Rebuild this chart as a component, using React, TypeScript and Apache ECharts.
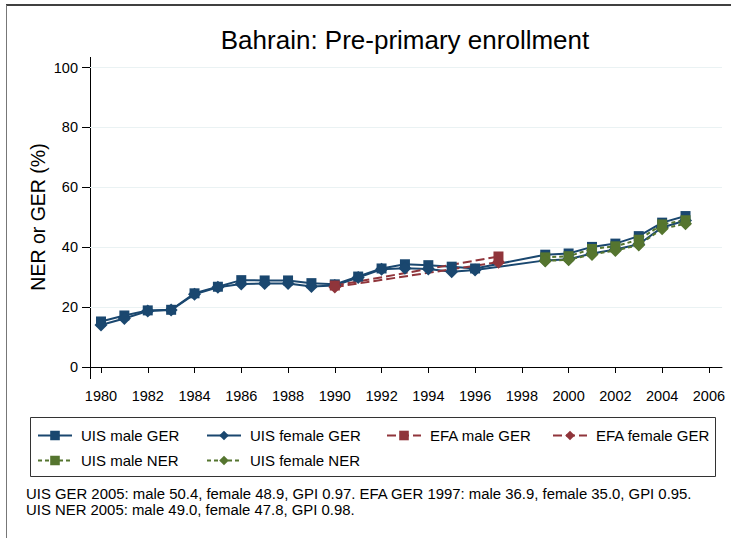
import React, { useEffect, useRef } from "react";
import * as echarts from "echarts";

// ---- data ----
const gerYears = [1980, 1981, 1982, 1983, 1984, 1985, 1986, 1987, 1988, 1989, 1990, 1991, 1992, 1993, 1994, 1995, 1996, 1999, 2000, 2001, 2002, 2003, 2004, 2005];
const uisMaleGER = [15.2, 17.2, 18.9, 19.1, 24.6, 26.8, 29.0, 28.9, 28.9, 28.0, 27.6, 30.2, 32.9, 34.3, 34.0, 33.5, 32.9, 37.5, 37.9, 40.1, 41.2, 43.7, 48.2, 50.4];
const uisFemaleGER = [14.0, 16.2, 18.7, 19.0, 24.3, 26.6, 27.7, 27.9, 27.9, 26.9, 27.2, 29.9, 32.6, 33.0, 32.7, 31.8, 32.4, 35.6, 36.0, 37.9, 39.2, 41.0, 46.6, 48.9];
const efaYears = [1990, 1997];
const efaMaleGER = [27.2, 36.9];
const efaFemaleGER = [26.7, 35.0];
const nerYears = [1999, 2000, 2001, 2002, 2003, 2004, 2005];
const uisMaleNER = [36.6, 37.0, 39.4, 40.3, 42.5, 47.6, 49.0];
const uisFemaleNER = [35.4, 35.8, 37.6, 38.9, 40.7, 46.2, 47.8];
const xTickYears = [1980, 1982, 1984, 1986, 1988, 1990, 1992, 1994, 1996, 1998, 2000, 2002, 2004, 2006];
const seriesNames = ["UIS male GER", "UIS female GER", "EFA male GER", "EFA female GER", "UIS male NER", "UIS female NER"];
const titleText = "Bahrain: Pre-primary enrollment";
const yAxisTitle = "NER or GER (%)";
const noteLines = [
  "UIS GER 2005: male 50.4, female 48.9, GPI 0.97. EFA GER 1997: male 36.9, female 35.0, GPI 0.95.",
  "UIS NER 2005: male 49.0, female 47.8, GPI 0.98.",
];

const FONT = "'Liberation Sans', Arial, Helvetica, sans-serif";
const NAVY = "#1a476f";
const MAROON = "#90353b";
const GREEN = "#55752f";

export default function App() {
  const ref = useRef<HTMLDivElement>(null);
  useEffect(() => {
    if (!ref.current) return;
    const chart = echarts.init(ref.current, null, { renderer: "svg" });
    const pairs = (xs: number[], ys: number[]) => xs.map((x, i) => [x, ys[i]]);
    const mk = (name: string, xs: number[], ys: number[], color: string, symbol: string, size: number, lineType: any) => ({
      name,
      type: "line",
      data: pairs(xs, ys),
      symbol,
      symbolSize: size,
      showSymbol: true,
      itemStyle: { color, opacity: 1 },
      lineStyle: { color, width: 2, type: lineType },
      emphasis: { disabled: true },
      silent: true,
    });
    const legendPos = [
      { x: 37, y: 428 },
      { x: 206, y: 428 },
      { x: 386, y: 428 },
      { x: 552, y: 428 },
      { x: 37, y: 453 },
      { x: 206, y: 453 },
    ];
    const option: any = {
      animation: false,
      backgroundColor: "#ffffff",
      grid: { left: 90, right: 9, top: 67.5, bottom: 171 },
      xAxis: {
        type: "value",
        min: 1979.53,
        max: 2006.56,
        offset: 12,
        axisLine: { show: true, lineStyle: { color: "#000", width: 1 } },
        axisTick: { show: true, customValues: xTickYears, length: 6, lineStyle: { color: "#000" } },
        axisLabel: {
          customValues: xTickYears,
          margin: 9,
          fontFamily: FONT,
          fontSize: 14.5,
          color: "#000",
          formatter: (v: number) => String(Math.round(v)),
        },
        splitLine: { show: false },
      },
      yAxis: {
        type: "value",
        min: 0,
        max: 100,
        interval: 20,
        axisLine: { show: false },
        axisTick: { show: true, length: 8, lineStyle: { color: "#000" } },
        axisLabel: { margin: 12, fontFamily: FONT, fontSize: 14.5, color: "#000" },
        splitLine: { show: true, lineStyle: { color: "#eaf2f3", width: 1 } },
      },
      legend: legendPos.map((p, i) => ({
        data: [seriesNames[i]],
        left: p.x,
        top: p.y,
        padding: 0,
        itemWidth: 34,
        itemHeight: 12,
        selectedMode: false,
        textStyle: { fontFamily: FONT, fontSize: 15, color: "#000", padding: [0, 0, 0, 4] },
      })),
      graphic: [
        { type: "line", shape: { x1: 6, y1: 5, x2: 731, y2: 5 }, style: { stroke: "#000", lineWidth: 1.5 } },
        { type: "line", shape: { x1: 6.5, y1: 5, x2: 6.5, y2: 538 }, style: { stroke: "#777", lineWidth: 1 } },
        { type: "line", shape: { x1: 90.5, y1: 57, x2: 90.5, y2: 379 }, style: { stroke: "#000", lineWidth: 1 } },
        { type: "rect", shape: { x: 30.5, y: 417.5, width: 685, height: 59 }, style: { fill: "none", stroke: "#333", lineWidth: 1 } },
        {
          type: "text", x: 405, y: 40,
          style: { text: titleText, textAlign: "center", textVerticalAlign: "middle", fontFamily: FONT, fontSize: 26, fill: "#000" },
        },
        {
          type: "text", x: 38, y: 217, rotation: Math.PI / 2,
          style: { text: yAxisTitle, textAlign: "center", textVerticalAlign: "middle", fontFamily: FONT, fontSize: 19.5, fill: "#000" },
        },
        {
          type: "text", x: 26, y: 494,
          style: { text: noteLines[0], textAlign: "left", textVerticalAlign: "middle", fontFamily: FONT, fontSize: 14.9, fill: "#000" },
        },
        {
          type: "text", x: 26, y: 510,
          style: { text: noteLines[1], textAlign: "left", textVerticalAlign: "middle", fontFamily: FONT, fontSize: 14.9, fill: "#000" },
        },
      ],
      series: [
        mk(seriesNames[0], gerYears, uisMaleGER, NAVY, "rect", 10, "solid"),
        mk(seriesNames[1], gerYears, uisFemaleGER, NAVY, "diamond", 13, "solid"),
        mk(seriesNames[2], efaYears, efaMaleGER, MAROON, "rect", 10, [9, 4]),
        mk(seriesNames[3], efaYears, efaFemaleGER, MAROON, "diamond", 13, [9, 4]),
        mk(seriesNames[4], nerYears, uisMaleNER, GREEN, "rect", 10, [4, 3]),
        mk(seriesNames[5], nerYears, uisFemaleNER, GREEN, "diamond", 13, [4, 3]),
      ],
    };
    chart.setOption(option);
    return () => chart.dispose();
  }, []);
  return <div ref={ref} style={{ position: "absolute", left: 0, top: 0, width: 731, height: 538 }} />;
}
